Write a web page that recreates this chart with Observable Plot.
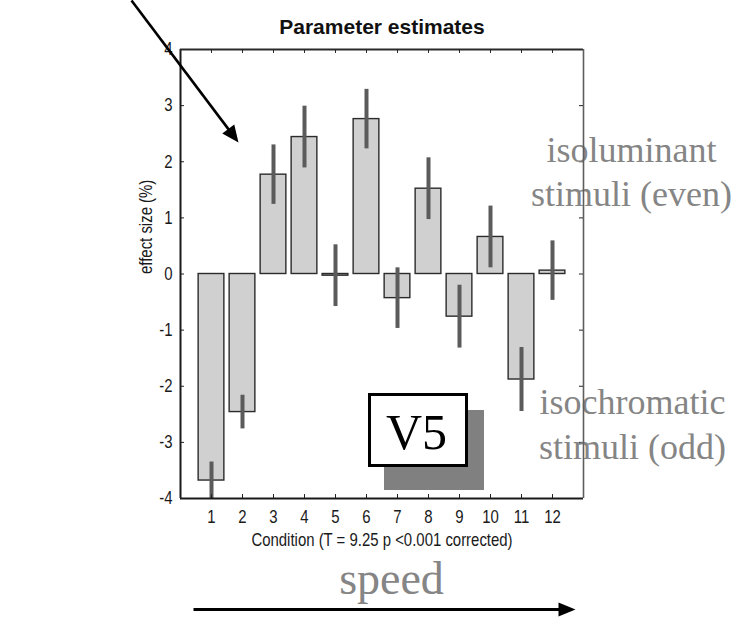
<!DOCTYPE html>
<html>
<head>
<meta charset="utf-8">
<script src="https://cdn.jsdelivr.net/npm/d3@7"></script>
<script src="https://cdn.jsdelivr.net/npm/@observablehq/plot@0.6"></script>
<style>
  html, body { margin: 0; padding: 0; background: #fff; }
  #chart svg { display: block; }
</style>
</head>
<body>
<div id="chart"></div>
<script>
// Parameter estimates per condition (effect size in %, with error)
const conditions = [1, 2, 3, 4, 5, 6, 7, 8, 9, 10, 11, 12];
const effectSize = [-3.68, -2.46, 1.77, 2.44, -0.03, 2.76, -0.43, 1.52, -0.76, 0.66, -1.88, 0.06];
const errorSize  = [0.33, 0.30, 0.53, 0.55, 0.55, 0.53, 0.54, 0.55, 0.56, 0.55, 0.57, 0.53];
const yTicks = [-4, -3, -2, -1, 0, 1, 2, 3, 4];

const titleText = "Parameter estimates";
const xLabelText = "Condition (T = 9.25 p <0.001 corrected)";
const yLabelText = "effect size (%)";
const evenNote = "isoluminant\nstimuli (even)";
const oddNote = "isochromatic\nstimuli (odd)";
const areaName = "V5";
const speedText = "speed";

const rows = conditions.map((c, i) => ({condition: c, effect: effectSize[i], err: errorSize[i]}));

const W = 750, H = 626;
const mL = 180, mR = 167, mT = 49, mB = 128;
const xDomain = [0, 13], yDomain = [-4, 4];

// convert page pixel positions into data space for the annotations
const px = (v) => xDomain[0] + (v - mL) / (W - mL - mR) * (xDomain[1] - xDomain[0]);
const py = (v) => yDomain[1] - (v - mT) / (H - mT - mB) * (yDomain[1] - yDomain[0]);

// axis lettering is set in a horizontally condensed sans
const narrow = "Liberation Sans, Arial, sans-serif";
const narrowScale = 0.83;
const sans = "'Liberation Sans', Arial, sans-serif";
const serif = "'Liberation Serif', 'Times New Roman', serif";
const noteGray = "#858585";

// arrow geometry (tail and tip in page pixels)
function arrow(tail, tip, width, headLen, headR) {
  const dx = tip[0] - tail[0], dy = tip[1] - tail[1];
  const len = Math.hypot(dx, dy);
  const end = [tip[0] - dx / len * (headLen - 4), tip[1] - dy / len * (headLen - 4)];
  const angle = Math.atan2(dx, -dy) * 180 / Math.PI;
  return [
    Plot.link([0], {x1: px(tail[0]), y1: py(tail[1]), x2: px(end[0]), y2: py(end[1]),
      stroke: "#000", strokeWidth: width}),
    Plot.vector([0], {x: px(tip[0]), y: py(tip[1]), rotate: angle, length: headLen, r: headR,
      anchor: "end", shape: "spike", fill: "#000", stroke: "none"})
  ];
}

const chart = Plot.plot({
  width: W,
  height: H,
  marginLeft: mL,
  marginRight: mR,
  marginTop: mT,
  marginBottom: mB,
  style: {background: "#fff", color: "#1a1a1a", overflow: "visible"},
  x: {type: "linear", domain: xDomain},
  y: {type: "linear", domain: yDomain},
  marks: [
    // bars
    Plot.rect(rows, {
      x1: d => d.condition - 0.415, x2: d => d.condition + 0.415,
      y1: 0, y2: "effect",
      fill: "#d0d0d0", stroke: "#2b2b2b", strokeWidth: 1.4
    }),
    // error bars
    Plot.ruleX(rows, {
      x: "condition", y1: d => d.effect - d.err, y2: d => d.effect + d.err,
      stroke: "#5b5b5b", strokeWidth: 4, clip: true
    }),
    // inward ticks on all four sides
    Plot.ruleY(yTicks, {y: d => d, x1: 0, x2: 0.13, stroke: "#222"}),
    Plot.ruleY(yTicks, {y: d => d, x1: 12.87, x2: 13, stroke: "#222"}),
    Plot.ruleX(conditions, {x: d => d, y1: -4, y2: -3.93, stroke: "#222"}),
    Plot.ruleX(conditions, {x: d => d, y1: 3.93, y2: 4, stroke: "#222"}),
    // axis frame
    Plot.ruleX([0], {stroke: "#1a1a1a", strokeWidth: 2}),
    Plot.ruleY([-4], {stroke: "#1a1a1a", strokeWidth: 2}),
    Plot.ruleY([4], {stroke: "#2a2a2a", strokeWidth: 2}),
    // tick labels
    Plot.axisX(conditions, {tickSize: 0, tickPadding: 12, fontSize: 18, fontFamily: narrow, label: null,
      tickFormat: d => String(d)}),
    Plot.axisY(yTicks, {tickSize: 0, tickPadding: 8, fontSize: 18, fontFamily: narrow, label: null,
      tickFormat: d => String(d)}),
    // title and axis labels
    Plot.text([titleText], {frameAnchor: "top", dy: -16, lineAnchor: "bottom",
      fontSize: 21, fontWeight: "bold", fontFamily: sans, fill: "#111"}),
    Plot.text([xLabelText], {frameAnchor: "bottom", dy: 47, lineAnchor: "bottom",
      fontSize: 18, fontFamily: narrow, fill: "#1a1a1a"}),
    Plot.text([yLabelText], {frameAnchor: "left", dx: -34, rotate: -90, lineAnchor: "middle",
      fontSize: 18, fontFamily: narrow, fill: "#1a1a1a"}),
    // V5 label box with drop shadow
    Plot.rect([0], {x1: px(384), x2: px(484), y1: py(410), y2: py(490), fill: "#808080"}),
    Plot.rect([0], {x1: px(369.5), x2: px(466.5), y1: py(394.5), y2: py(465.5),
      fill: "#fff", stroke: "#000", strokeWidth: 3}),
    Plot.text([areaName], {x: px(416), y: py(448), lineAnchor: "bottom",
      fontSize: 50, fontFamily: serif, fill: "#000"}),
    // stimulus notes on the right
    Plot.text([evenNote], {x: px(631), y: py(205), lineAnchor: "bottom", lineHeight: 1.2,
      fontSize: 36, fontFamily: serif, fill: noteGray}),
    Plot.text([oddNote], {x: px(632), y: py(458), lineAnchor: "bottom", lineHeight: 1.25,
      fontSize: 36, fontFamily: serif, fill: noteGray}),
    // right edge of the frame
    Plot.ruleX([13], {stroke: "#5e5e5e", strokeWidth: 1.6}),
    // speed label and arrows
    Plot.text([speedText], {x: px(391), y: py(593), lineAnchor: "bottom",
      fontSize: 46, fontFamily: serif, fill: noteGray}),
    ...arrow([193, 609], [575, 609], 3, 17, 7),
    ...arrow([131, 0], [238, 142], 2.6, 17, 7.5)
  ]
});

// condense the axis lettering horizontally; each label's position sits in its
// translate(), so a trailing scale() squeezes the glyphs about their anchor
d3.select(chart).selectAll(`g[font-family="${narrow}"] text`).each(function () {
  const t = d3.select(this);
  const base = t.attr("transform") || "";
  t.attr("transform", `${base} scale(${narrowScale},1)`.trim());
});

document.getElementById("chart").append(chart);
</script>
</body>
</html>
